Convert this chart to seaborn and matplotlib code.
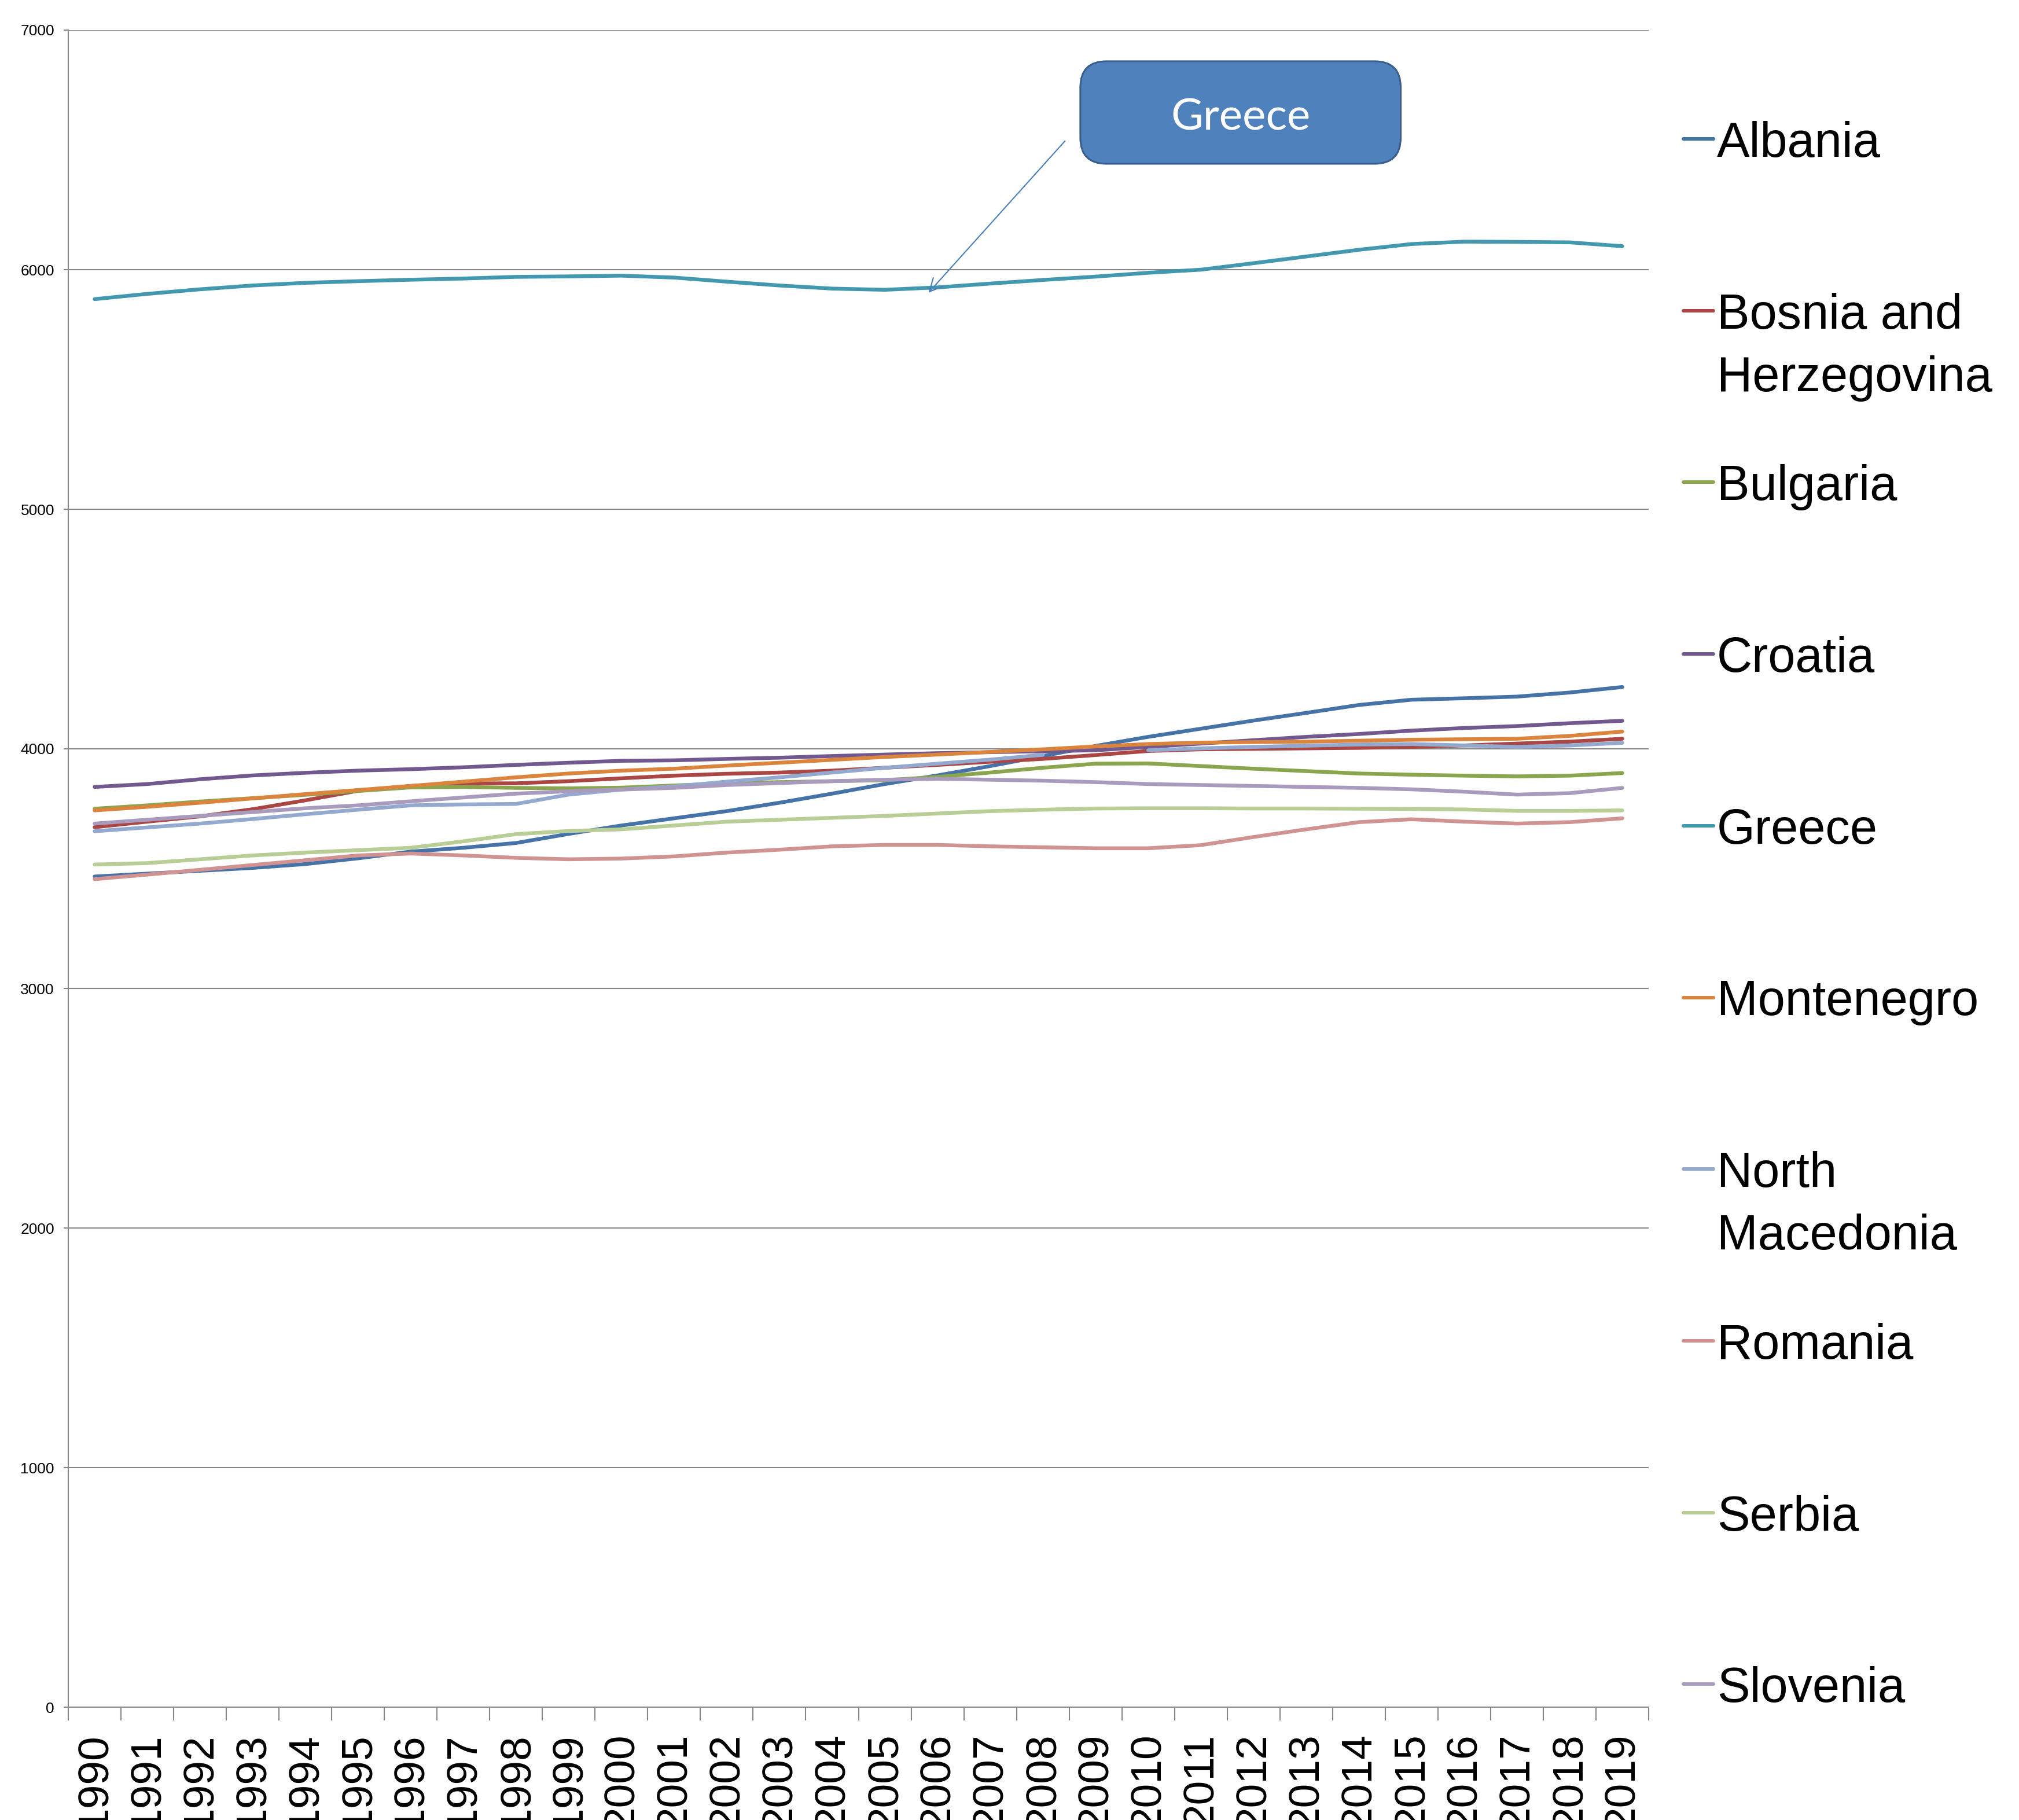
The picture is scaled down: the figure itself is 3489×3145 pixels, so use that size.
import numpy as np
import pandas as pd
import seaborn as sns
import matplotlib.pyplot as plt
from matplotlib.patches import FancyBboxPatch
from matplotlib.lines import Line2D

# data (1990-2019)
years = list(range(1990, 2020))
countries = ["Albania", "Bosnia and Herzegovina", "Bulgaria", "Croatia", "Greece",
             "Montenegro", "North Macedonia", "Romania", "Serbia", "Slovenia"]
legend_labels = ["Albania", "Bosnia and\nHerzegovina", "Bulgaria", "Croatia", "Greece",
                 "Montenegro", "North\nMacedonia", "Romania", "Serbia", "Slovenia"]
colors = ["#4572A7", "#AA4643", "#89A54E", "#71588F", "#4198AF",
          "#DB843D", "#93A9CF", "#D19392", "#B9CD96", "#A99BBD"]

albania = [3467, 3479, 3491, 3503, 3519, 3543, 3571, 3587, 3607, 3645,
           3680, 3710, 3740, 3775, 3813, 3853, 3889, 3928, 3970, 4012,
           4050, 4084, 4118, 4150, 4183, 4205, 4211, 4218, 4235, 4258]
bosnia = [3673, 3696, 3718, 3748, 3785, 3825, 3845, 3856, 3856, 3865,
          3877, 3888, 3896, 3901, 3909, 3921, 3933, 3946, 3958, 3974,
          3991, 3998, 4000, 4002, 4004, 4008, 4014, 4022, 4030, 4042]
bulgaria = [3750, 3764, 3780, 3794, 3808, 3824, 3839, 3841, 3837, 3835,
            3838, 3847, 3856, 3861, 3865, 3869, 3883, 3901, 3921, 3938,
            3939, 3928, 3917, 3907, 3897, 3892, 3888, 3885, 3888, 3899]
croatia = [3841, 3853, 3873, 3889, 3900, 3909, 3915, 3923, 3933, 3942,
           3950, 3952, 3958, 3963, 3970, 3976, 3982, 3986, 3990, 3994,
           4008, 4022, 4036, 4050, 4062, 4076, 4087, 4095, 4107, 4117]
greece = [5877, 5899, 5918, 5934, 5945, 5952, 5958, 5963, 5970, 5972,
          5975, 5967, 5950, 5934, 5921, 5916, 5926, 5942, 5957, 5971,
          5987, 6000, 6027, 6055, 6083, 6107, 6117, 6116, 6114, 6098]
montenegro = [3743, 3758, 3775, 3793, 3811, 3828, 3845, 3863, 3881, 3897,
              3909, 3917, 3930, 3942, 3954, 3966, 3976, 3987, 3998, 4010,
              4020, 4026, 4028, 4030, 4034, 4038, 4040, 4042, 4054, 4072]
north_macedonia = [3656, 3672, 3688, 3707, 3727, 3746, 3764, 3768, 3770, 3809,
                   3830, 3843, 3863, 3881, 3901, 3921, 3938, 3955, 3975, np.nan,
                   3994, 4002, 4008, 4013, 4018, 4020, 4014, 4008, 4014, 4025]
romania = [3456, 3475, 3495, 3515, 3535, 3555, 3563, 3555, 3545, 3539,
           3542, 3551, 3567, 3579, 3593, 3599, 3599, 3593, 3589, 3585,
           3585, 3598, 3632, 3664, 3694, 3706, 3696, 3688, 3694, 3710]
serbia = [3517, 3523, 3539, 3555, 3567, 3577, 3587, 3614, 3644, 3657,
          3664, 3680, 3696, 3704, 3712, 3720, 3730, 3740, 3746, 3751,
          3752, 3752, 3751, 3751, 3750, 3749, 3747, 3741, 3741, 3743]
slovenia = [3688, 3704, 3720, 3736, 3752, 3764, 3781, 3797, 3813, 3823,
            3830, 3837, 3849, 3857, 3865, 3871, 3875, 3871, 3867, 3861,
            3853, 3849, 3845, 3841, 3837, 3831, 3821, 3809, 3815, 3837]

series = [albania, bosnia, bulgaria, croatia, greece,
          montenegro, north_macedonia, romania, serbia, slovenia]

# long table; a missing year starts a new segment so the line shows a gap
rows = []
for name, vals in zip(countries, series):
    seg = 0
    for yr, v in zip(years, vals):
        if np.isnan(v):
            seg += 1
            continue
        rows.append((name, yr, v, f"{name}-{seg}"))
df = pd.DataFrame(rows, columns=["country", "year", "value", "segment"])

sns.set_style("white")
plt.rcParams["font.family"] = ["Liberation Sans", "DejaVu Sans"]
plt.rcParams["text.color"] = "black"
plt.rcParams["xtick.labelcolor"] = "black"
plt.rcParams["ytick.labelcolor"] = "black"

W, H = 3489, 3145
fig = plt.figure(figsize=(W / 100, H / 100), dpi=100)
ax = fig.add_axes([118 / W, 1 - 2950 / H, 2731 / W, 2898 / H])

sns.lineplot(data=df, x="year", y="value", hue="country", units="segment",
             estimator=None, hue_order=countries,
             palette=dict(zip(countries, colors)), linewidth=4.7,
             solid_capstyle="round", solid_joinstyle="round",
             legend=False, ax=ax)

grey = "#868686"
ax.set_xlim(1989.5, 2019.5)
ax.set_ylim(0, 7000)
ax.set_yticks(range(0, 7001, 1000))
ax.yaxis.grid(True, color=grey, lw=1.5)
ax.xaxis.grid(False)
ax.set_axisbelow(True)
for s in ["top", "right"]:
    ax.spines[s].set_visible(False)
for s in ["left", "bottom"]:
    ax.spines[s].set_color(grey)
    ax.spines[s].set_linewidth(1.5)

ax.set_xticks(years)
ax.set_xticklabels([str(y) for y in years], rotation=90, fontsize=54, color="black")
ax.set_xticks(np.arange(1989.5, 2020, 1), minor=True)
ax.tick_params(axis="x", which="major", length=0, pad=32)
ax.tick_params(axis="x", which="minor", length=16.5, width=1.5, color=grey,
               direction="out", bottom=True)
ax.tick_params(axis="y", length=5.8, width=1.5, color=grey, labelsize=19,
               labelcolor="black", pad=11.5, direction="out", left=True)
ax.set_xlabel("")
ax.set_ylabel("")

# callout box and arrow for Greece
bx, by, bw, bh = 0.6404, 0.9203, 0.2027, 0.0611
box = FancyBboxPatch((bx, by), bw, bh,
                     boxstyle="round,pad=0,rounding_size=0.0165",
                     mutation_aspect=0.941, transform=ax.transAxes,
                     fc="#4F81BD", ec="#385D8A", lw=2.2, clip_on=False, zorder=5)
ax.add_patch(box)
ax.text(bx + bw / 2, by + bh / 2 - 0.003, "Greece", transform=ax.transAxes,
        ha="center", va="center", color="white", fontsize=55,
        family=["Lato", "DejaVu Sans"], zorder=6)
ax.annotate("", xy=(2005.83, 5904), xytext=(2008.42, 6537),
            arrowprops=dict(arrowstyle="->", color="#4A7EBB", lw=1.5,
                            mutation_scale=40, shrinkA=0, shrinkB=0))

# legend drawn by hand: evenly spaced entries, marker at the first text line
for k, (lab, c) in enumerate(zip(legend_labels, colors)):
    ypx = 240 + 296.7 * k
    yf = 1 - ypx / H
    fig.add_artist(Line2D([2909 / W, 2961 / W], [yf, yf], transform=fig.transFigure,
                          color=c, lw=4.3, solid_capstyle="round"))
    fig.text(2967 / W, 1 - (ypx - 31) / H, lab, ha="left", va="top",
             fontsize=61, linespacing=1.45, color="black")

fig.savefig("out.png", dpi=100)
